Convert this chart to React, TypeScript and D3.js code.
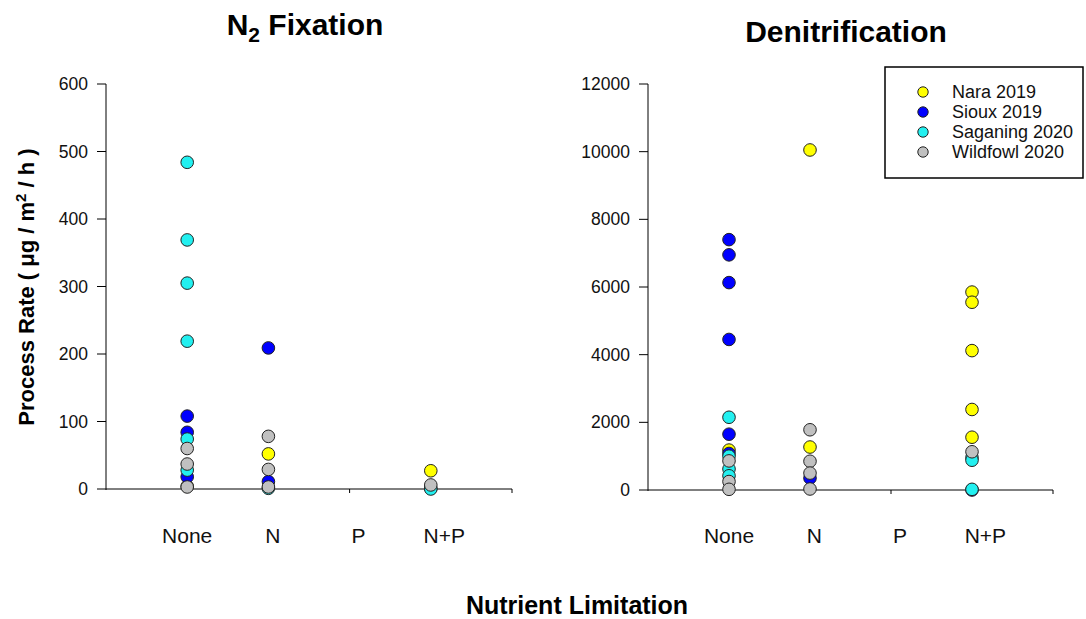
import React from "react";
import * as d3 from "d3";

const width = 1086;
const height = 619;
const font = "Arial, 'Liberation Sans', sans-serif";

const categories = ["None", "N", "P", "N+P"];
const seriesNames = ["Nara 2019", "Sioux 2019", "Saganing 2020", "Wildfowl 2020"];
const seriesColors = ["#ffff00", "#0000ff", "#22f0f0", "#c0c0c0"];

// N2 fixation values, one inner list per category
const n2Nara = [[4], [52], [], [27]];
const n2Sioux = [[108, 84, 18], [209, 11], [], [1]];
const n2Saganing = [[484, 369, 305, 219, 74, 28], [1], [], [0]];
const n2Wildfowl = [[60, 37, 3], [78, 29, 3], [], [6]];
const n2Ticks = [0, 100, 200, 300, 400, 500, 600];

// denitrification values
const denNara = [[1180], [10050, 1270], [], [5850, 5550, 4120, 2380, 1560]];
const denSioux = [[7400, 6950, 6130, 4450, 1650, 1080], [350], [], [0]];
const denSaganing = [[2150, 1000, 620, 420], [], [], [960, 880, 20]];
const denWildfowl = [[860, 250, 20], [1780, 850, 500, 30], [], [1130]];
const denTicks = [0, 2000, 4000, 6000, 8000, 10000, 12000];

const Panel = ({ left, right, top, bottom, ticks, series }) => {
  const y = d3.scaleLinear().domain([0, d3.max(ticks)]).range([bottom, top]);
  const x = d3.scalePoint().domain(categories).range([left, right]).padding(1);
  const labelX = d3
    .scalePoint()
    .domain(categories)
    .range([left + x.step(), left + x.step() + 3 * x.step() * 1.055]);

  const points = [];
  series.forEach((s, si) =>
    s.forEach((vals, ci) =>
      vals.forEach((v) => points.push({ si, cat: categories[ci], v }))
    )
  );

  return (
    <g>
      {/* y axis */}
      <line x1={left} x2={left} y1={top} y2={bottom + 1} stroke="#000" />
      {ticks.map((t) => (
        <g key={t}>
          <line x1={left - 9} x2={left} y1={y(t)} y2={y(t)} stroke="#000" />
          <text
            x={left - 18}
            y={y(t)}
            dy="0.35em"
            textAnchor="end"
            fontSize={17.5}
            fontFamily={font}
            fill="#111"
          >
            {t}
          </text>
        </g>
      ))}
      {/* x axis */}
      <line x1={left} x2={right} y1={bottom} y2={bottom} stroke="#000" />
      {categories.map((c) => (
        <line key={c} x1={x(c)} x2={x(c)} y1={bottom} y2={bottom + 4} stroke="#000" />
      ))}
      <line x1={right} x2={right} y1={bottom} y2={bottom + 4} stroke="#000" />
      {categories.map((c) => (
        <text
          key={c}
          x={labelX(c)}
          y={543}
          textAnchor="middle"
          fontSize={21}
          fontFamily={font}
          fill="#111"
        >
          {c}
        </text>
      ))}
      {points.map((p, i) => (
        <circle
          key={i}
          cx={x(p.cat)}
          cy={y(p.v)}
          r={6.3}
          fill={seriesColors[p.si]}
          stroke="#222"
          strokeWidth={1}
        />
      ))}
    </g>
  );
};

export default function App() {
  return (
    <svg
      width={width}
      height={height}
      style={{ position: "absolute", left: 0, top: 0, background: "#fff" }}
    >
      <text
        x={305}
        y={35}
        textAnchor="middle"
        fontSize={30}
        fontWeight="bold"
        fontFamily={font}
      >
        <tspan>N</tspan>
        <tspan dy={7} fontSize={21}>2</tspan>
        <tspan dy={-7}> Fixation</tspan>
      </text>
      <text
        x={846}
        y={42}
        textAnchor="middle"
        fontSize={30}
        fontWeight="bold"
        fontFamily={font}
      >
        Denitrification
      </text>

      <Panel
        left={106}
        right={512}
        top={84}
        bottom={489}
        ticks={n2Ticks}
        series={[n2Nara, n2Sioux, n2Saganing, n2Wildfowl]}
      />
      <Panel
        left={648}
        right={1053}
        top={84}
        bottom={490}
        ticks={denTicks}
        series={[denNara, denSioux, denSaganing, denWildfowl]}
      />

      <text
        transform="translate(34, 287) rotate(-90)"
        textAnchor="middle"
        fontSize={22}
        fontWeight="bold"
        fontFamily={font}
      >
        <tspan>Process Rate ( μg / m</tspan>
        <tspan dy={-8} fontSize={15}>2</tspan>
        <tspan dy={8}> / h )</tspan>
      </text>

      <text
        x={577}
        y={614}
        textAnchor="middle"
        fontSize={25}
        fontWeight="bold"
        fontFamily={font}
      >
        Nutrient Limitation
      </text>

      {/* legend */}
      <rect x={885} y={67} width={198} height={111} fill="#fff" stroke="#000" strokeWidth={1.5} />
      {seriesNames.map((name, i) => (
        <g key={name}>
          <circle
            cx={923}
            cy={92 + i * 20}
            r={5.2}
            fill={seriesColors[i]}
            stroke="#222"
          />
          <text
            x={952}
            y={92 + i * 20}
            dy="0.35em"
            fontSize={18}
            fontFamily={font}
            fill="#111"
          >
            {name}
          </text>
        </g>
      ))}
    </svg>
  );
}
